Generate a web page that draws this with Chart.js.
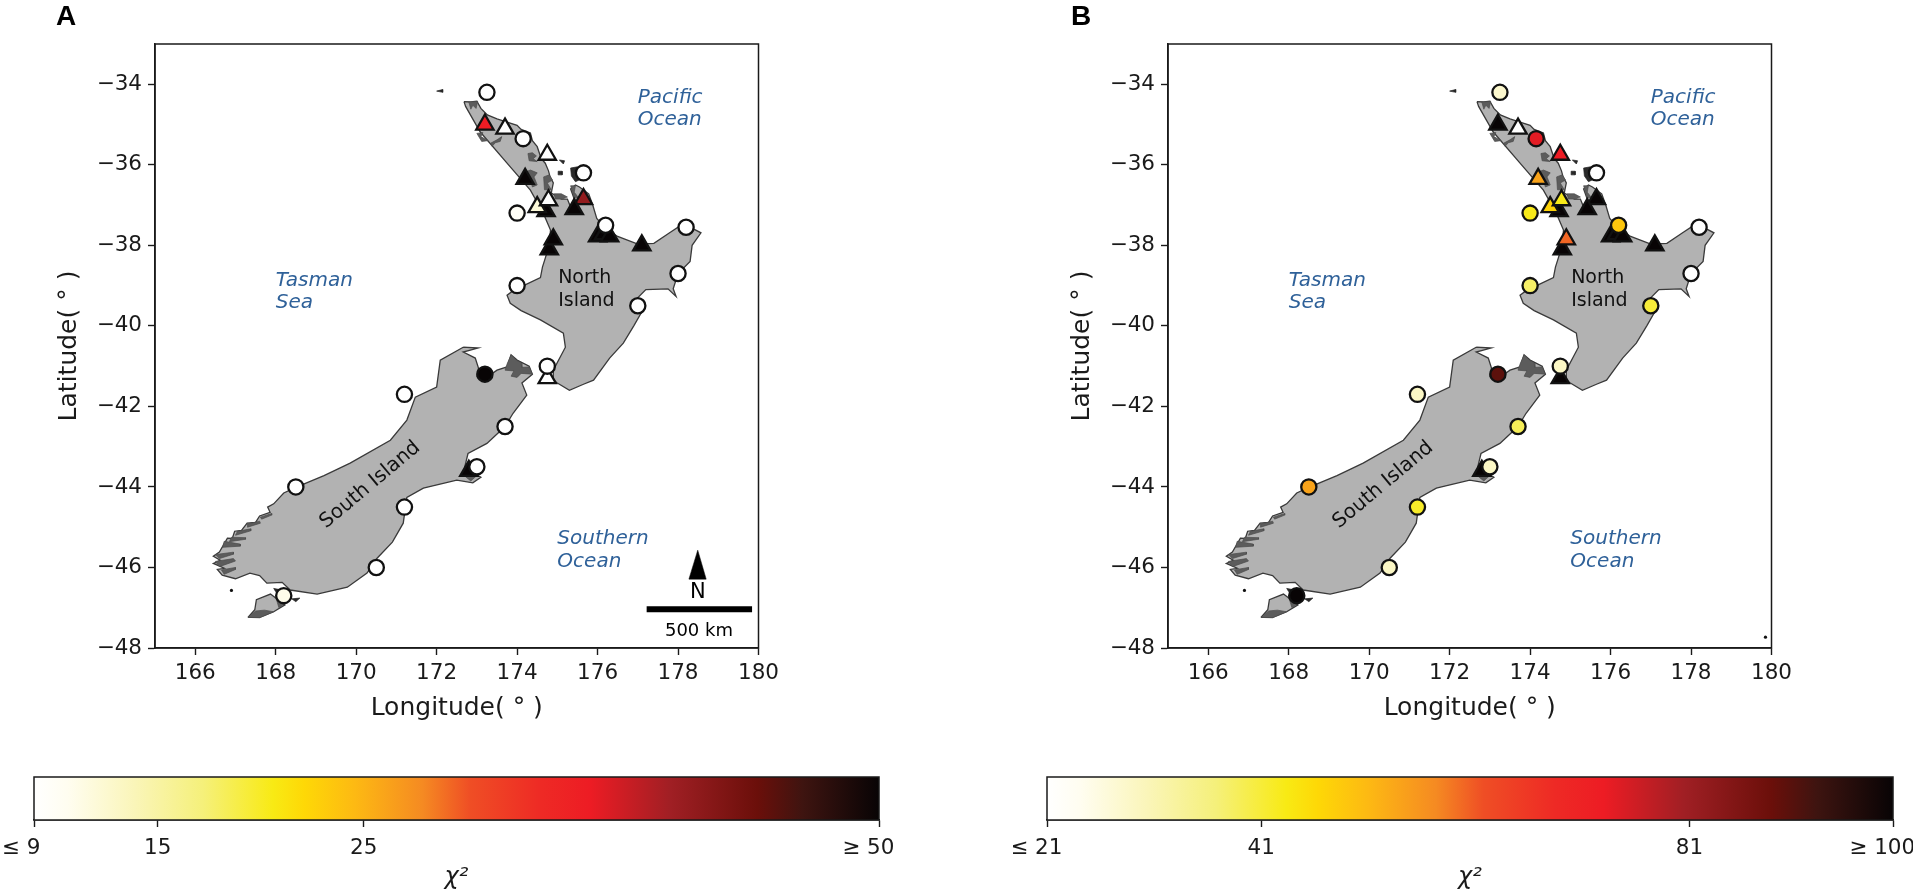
<!DOCTYPE html>
<html><head><meta charset="utf-8">
<script src="https://cdn.jsdelivr.net/npm/chart.js@4"></script>
<style>
html,body{margin:0;padding:0;background:#fff;width:1913px;height:894px;overflow:hidden}
.box{position:absolute}
.box canvas{display:block}
</style></head><body>
<div class="box" style="left:0;top:0;width:790px;height:750px"><canvas id="mapA"></canvas></div>
<div class="box" style="left:1013px;top:0;width:790px;height:750px"><canvas id="mapB"></canvas></div>
<div class="box" style="left:0;top:760px;width:925px;height:134px"><canvas id="barA"></canvas></div>
<div class="box" style="left:1013px;top:760px;width:900px;height:134px"><canvas id="barB"></canvas></div>
<script>
const xTicks=[166,168,170,172,174,176,178,180];
const yTicks=[-34,-36,-38,-40,-42,-44,-46,-48];

// sites: longitude, latitude, marker kind, chi-square in panel A and panel B
const siteLon =[173.2,173.7,174.75,174.2,175.65,174.72,175.42,174.8,174.9,176.0,176.15,176.3,177.1,174.75,172.8,174.5,174.78,
                173.25,174.15,175.65,174.0,176.2,178.2,178.0,174.0,177.0,174.75,173.2,171.2,173.7,173.0,168.5,171.2,170.5,168.2];
const siteLat =[-35.0,-35.1,-35.75,-36.35,-36.85,-37.15,-37.1,-38.1,-37.85,-37.78,-37.72,-37.78,-38.0,-41.3,-43.6,-37.05,-36.88,
                -34.2,-35.35,-36.2,-37.2,-37.5,-37.55,-38.7,-39.0,-39.5,-41.0,-41.2,-41.7,-42.5,-43.5,-44.0,-44.5,-46.0,-46.7];
const siteKind=['t','t','t','t','t','t','t','t','t','t','t','t','t','t','t','t','t',
                'c','c','c','c','c','c','c','c','c','c','c','c','c','c','c','c','c','c'];
const chiA=[36,9,9,50,41,50,50,50,50,50,50,50,50,9,50,12,9,
            9,9,9,10,9,9,9,9,9,9,50,9,9,9,9,9,9,11];
const chiB=[100,21,73,54,100,100,100,100,60,100,100,100,100,100,100,47,43,
            28,74,21,43,49,21,21,38,41,29,90,29,39,29,54,42,29,100];

// colour bars
const ticksA=[9,15,25,50], tickTextA=['≤ 9\u2003\u2009','15','25','≥ 50\u2003'];
const ticksB=[21,41,81,100], tickTextB=['≤ 21\u2003','41','81','≥ 100\u2003'];
const cmapPos=[0,0.04,0.12,0.20,0.283,0.32,0.38,0.46,0.516,0.60,0.658,0.753,0.856,0.91,1];
const cmapCol=['#ffffff','#fffdf0','#faf5b8','#f5f07a','#f8ea14','#fed806','#fdb913','#f58a22','#ef4e25','#ee2a25','#ed1c24','#a01f24','#6b0f0a','#3e1410','#080405'];

// coastlines, [longitude, latitude]
const northIsland=[[172.68,-34.43],[172.85,-34.44],[173.0,-34.42],[173.1,-34.6],[173.26,-34.76],[173.5,-34.86],[173.75,-34.94],[174.0,-35.02],[174.1,-35.12],[174.33,-35.21],[174.38,-35.4],[174.5,-35.55],[174.6,-35.85],[174.7,-35.96],[174.78,-36.15],[174.82,-36.3],[174.9,-36.45],[174.85,-36.7],[175.1,-36.85],[175.25,-36.85],[175.35,-37.1],[175.45,-37.2],[175.52,-37.1],[175.42,-36.85],[175.33,-36.6],[175.45,-36.5],[175.55,-36.55],[175.78,-36.72],[175.88,-37.0],[175.98,-37.33],[176.2,-37.58],[176.5,-37.78],[177.0,-37.97],[177.4,-37.95],[177.8,-37.68],[178.0,-37.55],[178.3,-37.55],[178.57,-37.69],[178.35,-38.0],[178.3,-38.4],[178.0,-38.7],[177.88,-39.08],[177.95,-39.27],[177.75,-39.08],[177.2,-39.1],[176.9,-39.4],[177.1,-39.65],[176.9,-40.0],[176.64,-40.43],[176.3,-40.8],[175.9,-41.35],[175.65,-41.45],[175.3,-41.6],[175.0,-41.42],[174.9,-41.35],[174.9,-41.1],[175.2,-40.53],[175.15,-40.18],[174.58,-39.85],[174.1,-39.62],[173.83,-39.44],[173.75,-39.24],[174.0,-39.05],[174.2,-38.98],[174.58,-38.8],[174.63,-38.54],[174.8,-38.0],[174.83,-37.62],[174.65,-37.2],[174.33,-36.63],[173.75,-35.96],[173.08,-35.18],[172.72,-34.55]];
const southIsland=[[172.66,-40.53],[173.03,-40.55],[172.66,-40.65],[172.96,-40.8],[173.04,-41.05],[173.0,-41.25],[173.25,-41.28],[173.5,-41.1],[173.75,-41.02],[173.85,-40.72],[174.0,-40.85],[174.3,-41.0],[174.38,-41.2],[174.12,-41.42],[174.24,-41.72],[173.9,-42.17],[173.7,-42.5],[173.25,-42.92],[172.78,-43.17],[172.7,-43.5],[173.1,-43.76],[172.9,-43.9],[172.5,-43.83],[171.67,-44.03],[171.26,-44.26],[171.17,-44.9],[170.9,-45.37],[170.52,-45.77],[170.27,-46.14],[169.78,-46.49],[169.03,-46.66],[168.36,-46.56],[168.16,-46.37],[167.78,-46.39],[167.6,-46.2],[167.36,-46.14],[167.0,-46.28],[166.67,-46.19],[166.55,-46.05],[166.72,-46.02],[166.45,-45.9],[166.62,-45.82],[166.45,-45.72],[166.6,-45.62],[166.8,-45.27],[166.92,-45.28],[166.98,-45.1],[167.15,-45.08],[167.29,-44.9],[167.5,-44.88],[167.6,-44.72],[167.86,-44.63],[167.8,-44.5],[167.95,-44.42],[168.2,-44.15],[168.53,-44.0],[169.2,-43.72],[169.85,-43.41],[170.85,-42.84],[171.26,-42.34],[171.47,-41.77],[172.0,-41.52],[172.09,-40.85]];
const stewartIsland=[[167.31,-47.24],[167.48,-47.05],[167.52,-46.8],[167.87,-46.66],[168.23,-46.93],[167.95,-47.1],[167.6,-47.24]];
const darkPatches=[
 [[172.8,-34.44],[173.02,-34.43],[172.98,-34.6],[172.9,-34.52],[172.85,-34.62]],
 [[173.0,-35.22],[173.15,-35.2],[173.1,-35.3],[173.28,-35.4],[173.12,-35.42]],
 [[173.35,-35.46],[173.5,-35.38],[173.62,-35.3],[173.58,-35.42],[173.46,-35.45],[173.38,-35.54]],
 [[174.27,-35.72],[174.38,-35.7],[174.48,-35.78],[174.4,-35.85],[174.5,-35.92],[174.3,-35.9]],
 [[174.2,-36.18],[174.33,-36.13],[174.5,-36.2],[174.42,-36.3],[174.5,-36.5],[174.38,-36.55],[174.33,-36.38]],
 [[174.66,-36.3],[174.8,-36.25],[174.88,-36.38],[174.75,-36.45],[174.85,-36.62],[174.68,-36.62]],
 [[174.92,-36.72],[175.1,-36.72],[175.25,-36.8],[175.12,-36.85],[174.95,-36.85]],
 [[175.33,-36.52],[175.45,-36.52],[175.42,-36.68],[175.53,-36.82],[175.42,-36.82]],
 [[173.75,-40.95],[173.85,-40.72],[173.98,-40.85],[174.1,-40.92],[174.12,-41.03],[174.3,-41.02],[174.38,-41.2],[174.1,-41.18],[174.0,-41.28],[173.85,-41.25],[173.92,-41.12],[173.7,-41.1]],
 [[166.5,-45.68],[166.95,-45.62],[166.95,-45.67],[166.6,-45.78]],
 [[166.5,-45.85],[166.95,-45.78],[167.0,-45.84],[166.6,-45.98]],
 [[166.65,-46.06],[167.0,-46.0],[167.0,-46.05],[166.72,-46.17]],
 [[166.72,-45.35],[167.12,-45.42],[167.12,-45.47],[166.68,-45.5]],
 [[166.9,-45.25],[167.25,-45.26],[167.25,-45.3],[166.85,-45.36]],
 [[167.05,-45.1],[167.38,-45.04],[167.38,-45.09],[167.0,-45.2]],
 [[167.3,-44.92],[167.6,-44.85],[167.62,-44.9],[167.3,-45.0]],
 [[167.62,-44.75],[167.9,-44.66],[167.9,-44.7],[167.65,-44.8]],
 [[167.31,-47.24],[167.5,-47.08],[167.72,-47.06],[167.95,-47.1],[167.6,-47.25]],
 [[168.02,-46.8],[168.22,-46.9],[168.08,-47.0]],
 [[172.72,-43.45],[173.02,-43.7],[172.85,-43.85],[172.72,-43.75]]
];
const smallIslands=[
 [[175.33,-36.08],[175.5,-36.05],[175.6,-36.35],[175.45,-36.42],[175.35,-36.28]],
 [[172.0,-34.17],[172.15,-34.13],[172.15,-34.2]],
 [[175.02,-36.16],[175.12,-36.16],[175.12,-36.25],[175.02,-36.25]],
 [[175.05,-35.88],[175.18,-35.9],[175.15,-35.98]],
 [[167.95,-46.52],[168.1,-46.55],[168.0,-46.6]],
 [[168.4,-46.78],[168.6,-46.76],[168.5,-46.85]]
];
const strayDotsA=[[166.9,-46.57]];
const strayDotsB=[[166.9,-46.57],[179.85,-47.73]];

// compass and scale bar (panel A)
const northArrow=[[178.27,-46.29],[178.49,-45.57],[178.7,-46.29]];
const scaleBar=[[177.22,-47.04],[179.84,-47.04]];

// map annotations
const blue='#2f6199';
const noteText=['Tasman','Sea','Pacific','Ocean','Southern','Ocean','North','Island'];
const noteLon =[168.0,168.0,177.0,177.0,175.0,175.0,175.02,175.02];
const noteLat =[-38.87,-39.42,-34.33,-34.88,-45.3,-45.87,-38.82,-39.39];
const noteBlue=[1,1,1,1,1,1,0,0];

const FONT='"DejaVu Sans"';
const INK='#1a1a1a';

function chiColour(frac){
  frac=Math.max(0,Math.min(1,frac));
  let i=0; while(i<cmapPos.length-2&&frac>cmapPos[i+1]) i++;
  const t=(frac-cmapPos[i])/(cmapPos[i+1]-cmapPos[i]);
  const h=s=>[1,3,5].map(k=>parseInt(s.substr(k,2),16));
  const a=h(cmapCol[i]),b=h(cmapCol[i+1]);
  return 'rgb('+a.map((v,k)=>Math.round(v+(b[k]-v)*t)).join(',')+')';
}
const toPts=p=>p.map(q=>({x:q[0],y:q[1]}));
const land=(p,ord)=>({data:toPts(p.concat([p[0]])),showLine:true,pointRadius:0,borderColor:'#3a3a3a',borderWidth:1.3,backgroundColor:'#b2b2b2',fill:'shape',order:ord,tension:0});
const patch=p=>({data:toPts(p.concat([p[0]])),showLine:true,pointRadius:0,borderColor:'#4c4c4c',borderWidth:0.7,backgroundColor:'#5c5c5c',fill:'shape',order:5});

const framePlugin={id:'frame',afterDraw(c){
  const a=c.chartArea,g=c.ctx;g.save();g.strokeStyle=INK;g.lineWidth=1.5;
  g.strokeRect(a.left,a.top,a.right-a.left,a.bottom-a.top);g.restore();}};

function notesPlugin(letter,letterX,withScale){return {id:'notes',afterDatasetsDraw(c){
  const g=c.ctx,X=c.scales.x,Y=c.scales.y;g.save();g.textBaseline='middle';g.textAlign='left';
  noteText.forEach((t,i)=>{
    g.font=(noteBlue[i]?'italic 20px ':'19px ')+FONT;
    g.fillStyle=noteBlue[i]?blue:'#111';
    g.fillText(t,X.getPixelForValue(noteLon[i]),Y.getPixelForValue(noteLat[i]));
  });
  g.save();g.translate(X.getPixelForValue(170.35),Y.getPixelForValue(-43.95));g.rotate(-40*Math.PI/180);
  g.textAlign='center';g.font='20px '+FONT;g.fillStyle='#111';g.fillText('South Island',0,0);g.restore();
  g.textAlign='center';
  if(withScale){
    g.fillStyle='#000';g.font='21px '+FONT;g.fillText('N',X.getPixelForValue(178.49),Y.getPixelForValue(-46.62));
    g.font='18px '+FONT;g.fillText('500 km',X.getPixelForValue(178.52),Y.getPixelForValue(-47.58));
  }
  g.restore();
},afterDraw(c){
  const g=c.ctx;g.save();g.fillStyle='#000';g.font='bold 28px "Liberation Sans"';g.textAlign='center';g.textBaseline='alphabetic';
  g.fillText(letter,letterX,25);g.restore();
}};}

function makeMap(id,letter,letterX,chi,lo,hi,withScale,dots){
  const ds=[];
  ds.push({data:siteLon.map((v,i)=>({x:v,y:siteLat[i]})),
    pointStyle:siteKind.map(k=>k==='c'?'circle':'triangle'),
    pointRadius:siteKind.map(k=>k==='c'?7.6:10),
    pointBackgroundColor:chi.map(v=>chiColour((v-lo)/(hi-lo))),
    pointBorderColor:'#111',pointBorderWidth:2.3,showLine:false,order:1,clip:false});
  [northIsland,southIsland,stewartIsland].forEach(p=>ds.push(land(p,10)));
  darkPatches.forEach(p=>ds.push(patch(p)));
  smallIslands.forEach(p=>ds.push({...patch(p),backgroundColor:'#2a2a2a',borderColor:'#222'}));
  ds.push({data:toPts(dots),showLine:false,pointRadius:1.6,pointBackgroundColor:'#111',pointBorderWidth:0,order:4});
  if(withScale){
    ds.push({data:toPts(northArrow.concat([northArrow[0]])),showLine:true,pointRadius:0,borderWidth:0.5,borderColor:'#000',backgroundColor:'#000',fill:'shape',order:3});
    ds.push({data:toPts(scaleBar),showLine:true,pointRadius:0,borderWidth:6,borderColor:'#000',borderCapStyle:'butt',order:3});
  }
  const tickOpts={color:INK,font:{family:FONT,size:21.5},autoSkip:false,maxRotation:0,padding:6,
    callback:v=>String(v).replace('-','−')};
  const gridOpts={display:true,drawOnChartArea:false,drawTicks:true,tickLength:7,tickColor:INK,tickWidth:1.4};
  new Chart(document.getElementById(id),{type:'scatter',data:{datasets:ds},
    options:{responsive:true,maintainAspectRatio:false,animation:false,events:[],
      layout:{padding:{top:44,right:31.5,left:0,bottom:0}},
      plugins:{legend:{display:false},tooltip:{enabled:false}},
      scales:{
        x:{type:'linear',min:165,max:180,afterBuildTicks:s=>{s.ticks=xTicks.map(v=>({value:v}));},
          ticks:tickOpts,grid:gridOpts,border:{display:true,color:INK,width:1.5},
          title:{display:true,text:'Longitude( ° )',color:INK,font:{family:FONT,size:25},padding:{top:0,bottom:27}},
          afterFit:s=>{s.height=102;}},
        y:{type:'linear',min:-48,max:-33,afterBuildTicks:s=>{s.ticks=yTicks.map(v=>({value:v}));},
          ticks:tickOpts,grid:gridOpts,border:{display:true,color:INK,width:1.5},
          title:{display:true,text:'Latitude( ° )',color:INK,font:{family:FONT,size:25},padding:{top:54,bottom:0}},
          afterFit:s=>{s.width=155;}}
      }},
    plugins:[framePlugin,notesPlugin(letter,letterX,withScale)]});
}

function makeBar(id,ticks,labels){
  const lo=ticks[0],hi=ticks[ticks.length-1];
  new Chart(document.getElementById(id),{type:'bar',
    data:{labels:['χ²'],datasets:[{data:[[lo,hi]],barPercentage:1,categoryPercentage:1,borderWidth:0,
      backgroundColor:ctx=>{
        const a=ctx.chart.chartArea;if(!a)return '#888';
        const gr=ctx.chart.ctx.createLinearGradient(a.left,0,a.right,0);
        cmapPos.forEach((p,i)=>gr.addColorStop(p,cmapCol[i]));return gr;}}]},
    options:{indexAxis:'y',responsive:true,maintainAspectRatio:false,animation:false,events:[],
      layout:{padding:{left:34,top:17,right:id==='barA'?46:20,bottom:0}},
      plugins:{legend:{display:false},tooltip:{enabled:false}},
      scales:{
        y:{display:false},
        x:{type:'linear',min:lo,max:hi,afterBuildTicks:s=>{s.ticks=ticks.map(v=>({value:v}));},
          ticks:{color:INK,font:{family:FONT,size:21.5},autoSkip:false,maxRotation:0,padding:9,
            callback:v=>labels[ticks.indexOf(v)]},
          grid:{display:true,drawOnChartArea:false,drawTicks:true,tickLength:7,tickColor:INK,tickWidth:1.4},
          border:{display:true,color:INK,width:1.5},
          title:{display:true,text:'χ²',color:INK,font:{family:FONT,size:24,style:'italic'},padding:{top:0,bottom:2}},
          afterFit:s=>{s.height=74;s.paddingLeft=0;s.paddingRight=0;}}
      }},
    plugins:[framePlugin]});
}

makeMap('mapA','A',66,chiA,9,50,true,strayDotsA);
makeMap('mapB','B',68,chiB,21,100,false,strayDotsB);
makeBar('barA',ticksA,tickTextA);
makeBar('barB',ticksB,tickTextB);
</script>
</body></html>
